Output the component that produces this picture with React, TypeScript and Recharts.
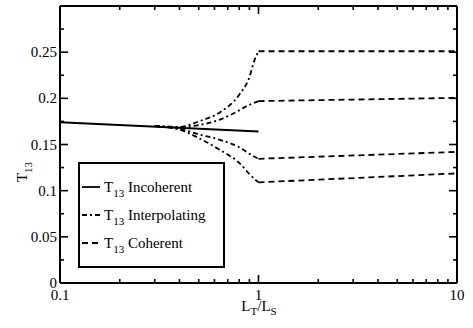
import React from "react";
import { Customized, Line, LineChart, XAxis, YAxis } from "recharts";

// x = L_T / L_S (log), y = T13
const incoherentX = [0.1, 1];
const incoherentY = [0.174, 0.164];

const interpX = [0.3, 0.4, 0.5, 0.64, 0.8, 0.9, 0.95, 1];
const interpA = [0.17, 0.169, 0.175, 0.185, 0.204, 0.223, 0.24, 0.251];
const interpB = [0.17, 0.169, 0.171, 0.177, 0.187, 0.193, 0.195, 0.197];
const interpC = [0.17, 0.167, 0.161, 0.155, 0.147, 0.14, 0.137, 0.1345];
const interpD = [0.17, 0.166, 0.157, 0.144, 0.13, 0.118, 0.113, 0.109];

const coherentX = [1, 10];
const coherentA = [0.251, 0.251];
const coherentB = [0.197, 0.2005];
const coherentC = [0.1345, 0.142];
const coherentD = [0.109, 0.1187];

const xMajor = [0.1, 1, 10];
const xTicks = [0.1, 0.2, 0.3, 0.4, 0.5, 0.6, 0.7, 0.8, 0.9, 1, 2, 3, 4, 5, 6, 7, 8, 9, 10];
const yMajor = [0, 0.05, 0.1, 0.15, 0.2, 0.25];
const yTicks = [0, 0.025, 0.05, 0.075, 0.1, 0.125, 0.15, 0.175, 0.2, 0.225, 0.25, 0.275];

const legendItems = [
  { label: "Incoherent", dash: undefined },
  { label: "Interpolating", dash: "5 3 2 3" },
  { label: "Coherent", dash: "6 4" },
];

const FONT = "Liberation Serif";
const txt = { fontFamily: FONT, fontSize: 15 };

const zip = (xs: number[], ys: number[]) => xs.map((x, i) => ({ x, y: ys[i] }));

const interpSeries = [interpA, interpB, interpC, interpD];
const coherentSeries = [coherentA, coherentB, coherentC, coherentD];

const blank = () => "";

// inward tick lengths in data units (about 8px major, 4px minor)
const yLen = (major: boolean) => (major ? 0.0087 : 0.0043);
const xFac = (major: boolean) => (major ? 1.097 : 1.047);

// tick marks as short two-point segments, placed through the chart scales
const tickSegments = [
  ...xTicks.map((v) => {
    const m = xMajor.includes(v);
    return [
      [{ x: v, y: 0 }, { x: v, y: yLen(m) }],
      [{ x: v, y: 0.3 }, { x: v, y: 0.3 - yLen(m) }],
    ];
  }),
  ...yTicks.map((v) => {
    const m = yMajor.includes(v);
    return [
      [{ x: 0.1, y: v }, { x: 0.1 * xFac(m), y: v }],
      [{ x: 10 / xFac(m), y: v }, { x: 10, y: v }],
    ];
  }),
].flat();

function makeTick(side: "bottom" | "left") {
  return (props: any) => {
    const x = Number(props.x);
    const y = Number(props.y);
    const v = props.payload.value;
    const major = side === "bottom" ? xMajor.includes(v) : yMajor.includes(v);
    if (!major) return <g />;
    return side === "bottom" ? (
      <text x={x} y={y + 17} textAnchor="middle" fill="#000" fontFamily={FONT} fontSize={15} style={txt}>
        {String(v)}
      </text>
    ) : (
      <text x={x - 3} y={y + 5} textAnchor="end" fill="#000" fontFamily={FONT} fontSize={15} style={txt}>
        {String(v)}
      </text>
    );
  };
}

function LegendBox() {
  return (
    <g fontFamily={FONT} fontSize={15} style={txt}>
      <rect x={79} y={163} width={145} height={104} fill="#fff" stroke="#000" strokeWidth={2} />
      {legendItems.map((it, i) => {
        const cy = 187 + i * 28;
        return (
          <g key={it.label}>
            <line x1={82} x2={100} y1={cy} y2={cy} stroke="#000" strokeWidth={1.8} strokeDasharray={it.dash} />
            <text x={104} y={cy + 5} fill="#000" fontFamily={FONT} style={txt}>
              T<tspan dy={5} style={{ fontSize: 11 }}>13</tspan>
              <tspan dy={-5}> {it.label}</tspan>
            </text>
          </g>
        );
      })}
    </g>
  );
}

export default function App() {
  const axisLine = { stroke: "#000", strokeWidth: 2 };
  return (
    <div style={{ position: "absolute", left: 0, top: 0, width: 473, height: 328, background: "#fff", fontFamily: FONT }}>
      <LineChart width={473} height={328} margin={{ top: 5, right: 15, left: 0, bottom: 0 }}>
        <XAxis
          dataKey="x"
          type="number"
          scale="log"
          domain={[0.1, 10]}
          ticks={xTicks}
          tickFormatter={blank}
          tickSize={0}
          tickMargin={0}
          height={45}
          axisLine={axisLine}
          tick={makeTick("bottom")}
        />
        <XAxis
          xAxisId="top"
          orientation="top"
          dataKey="x"
          type="number"
          scale="log"
          domain={[0.1, 10]}
          tick={false}
          tickLine={false}
          height={1}
          axisLine={axisLine}
        />
        <YAxis
          type="number"
          domain={[0, 0.3]}
          ticks={yTicks}
          tickFormatter={blank}
          tickSize={0}
          tickMargin={0}
          width={60}
          axisLine={axisLine}
          tick={makeTick("left")}
        />
        <YAxis
          yAxisId="right"
          orientation="right"
          type="number"
          domain={[0, 0.3]}
          tick={false}
          tickLine={false}
          width={1}
          axisLine={axisLine}
        />
        {tickSegments.map((seg, i) => (
          <Line
            key={`tick${i}`}
            data={seg}
            dataKey="y"
            type="linear"
            stroke="#000"
            strokeWidth={1.6}
            dot={false}
            activeDot={false}
            legendType="none"
            isAnimationActive={false}
          />
        ))}
        <Line
          xAxisId="top"
          data={zip(incoherentX, incoherentY)}
          dataKey="y"
          type="linear"
          stroke="#000"
          strokeWidth={2}
          dot={false}
          isAnimationActive={false}
        />
        {interpSeries.map((ys, i) => (
          <Line
            key={`interp${i}`}
            data={zip(interpX, ys)}
            dataKey="y"
            type="monotone"
            stroke="#000"
            strokeWidth={1.8}
            strokeDasharray="5 3 2 3"
            dot={false}
            isAnimationActive={false}
          />
        ))}
        {coherentSeries.map((ys, i) => (
          <Line
            key={`coh${i}`}
            yAxisId="right"
            data={zip(coherentX, ys)}
            dataKey="y"
            type="linear"
            stroke="#000"
            strokeWidth={1.8}
            strokeDasharray="6 4"
            dot={false}
            isAnimationActive={false}
          />
        ))}
        <Customized component={LegendBox} />
        <text x={27} y={172} fill="#000" fontFamily={FONT} style={txt} transform="rotate(-90 27 172)" textAnchor="middle">
          T<tspan dy={5} style={{ fontSize: 11 }}>13</tspan>
        </text>
        <text x={259} y={311} textAnchor="middle" fill="#000" fontFamily={FONT} style={txt}>
          L<tspan dy={4} style={{ fontSize: 11 }}>T</tspan>
          <tspan dy={-4}>/L</tspan>
          <tspan dy={4} style={{ fontSize: 11 }}>S</tspan>
        </text>
      </LineChart>
    </div>
  );
}
